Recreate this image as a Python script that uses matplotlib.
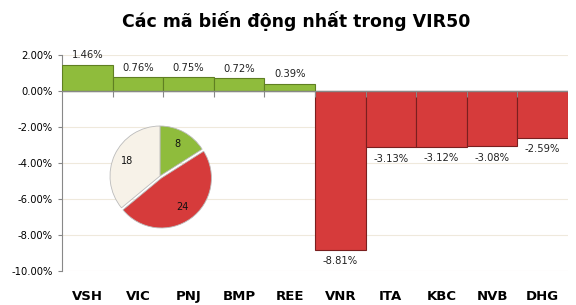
import numpy as np
import matplotlib.pyplot as plt

tickers = ["VSH", "VIC", "PNJ", "BMP", "REE", "VNR", "ITA", "KBC", "NVB", "DHG"]
changes = [1.46, 0.76, 0.75, 0.72, 0.39, -8.81, -3.13, -3.12, -3.08, -2.59]
pie_counts = [8, 24, 18]

green, green_edge = "#8fbc3c", "#5f7f22"
red, red_edge = "#d63b3b", "#7a1f1f"
cream = "#f7f2e8"

fig = plt.figure(figsize=(5.76, 3.05), dpi=100)
ax = fig.add_axes([0.1076, 0.1115, 0.8784, 0.7082])

x = np.arange(len(tickers))
colors = [green if v >= 0 else red for v in changes]
edges = [green_edge if v >= 0 else red_edge for v in changes]
ax.bar(x, changes, width=1.0, color=colors, edgecolor=edges, linewidth=0.8, zorder=3)

for xi, v in zip(x, changes):
    if v >= 0:
        ax.text(xi, v + 0.25, f"{v:.2f}%", ha="center", va="bottom", fontsize=7.2, color="#222222")
    else:
        ax.text(xi, v - 0.35, f"{v:.2f}%", ha="center", va="top", fontsize=7.2, color="#222222")

ax.set_xlim(-0.5, len(tickers) - 0.5)
ax.set_ylim(-10, 2)
yt = np.arange(-10, 2.1, 2)
ax.set_yticks(yt)
ax.set_yticklabels([f"{t:.2f}%" for t in yt], fontsize=7.2)
ax.grid(axis="y", color="#efe9dc", linewidth=0.8, zorder=0)

ax.set_xticks(x)
ax.set_xticklabels(tickers, fontsize=9.5, fontweight="bold")
ax.tick_params(axis="x", length=0, pad=14)
ax.tick_params(axis="y", length=3, color="#888888")

for s in ["top", "right", "bottom"]:
    ax.spines[s].set_visible(False)
ax.spines["left"].set_color("#888888")
ax.axhline(0, color="#888888", linewidth=1.0, zorder=4)
ax.vlines(x[:-1] + 0.5, -0.35, 0, color="#888888", linewidth=0.8, zorder=4)

fig.text(0.515, 0.93, "Các mã biến động nhất trong VIR50", ha="center", va="center",
         fontsize=12.5, fontweight="bold")

pax = fig.add_axes([0.1866, 0.251, 0.1823, 0.344])
wedges, texts = pax.pie(pie_counts, colors=[green, red, cream], startangle=90, counterclock=False,
                        explode=[0, 0.05, 0], labels=[str(c) for c in pie_counts], labeldistance=0.72,
                        wedgeprops=dict(edgecolor="#bbbbbb", linewidth=0.6),
                        textprops=dict(fontsize=7, color="#111111"))
for t in texts:
    t.set_horizontalalignment("center")
    t.set_verticalalignment("center")
pax.set_xlim(-1.05, 1.05)
pax.set_ylim(-1.05, 1.05)
pax.set_aspect("equal")

fig.savefig("out.png", dpi=100)
